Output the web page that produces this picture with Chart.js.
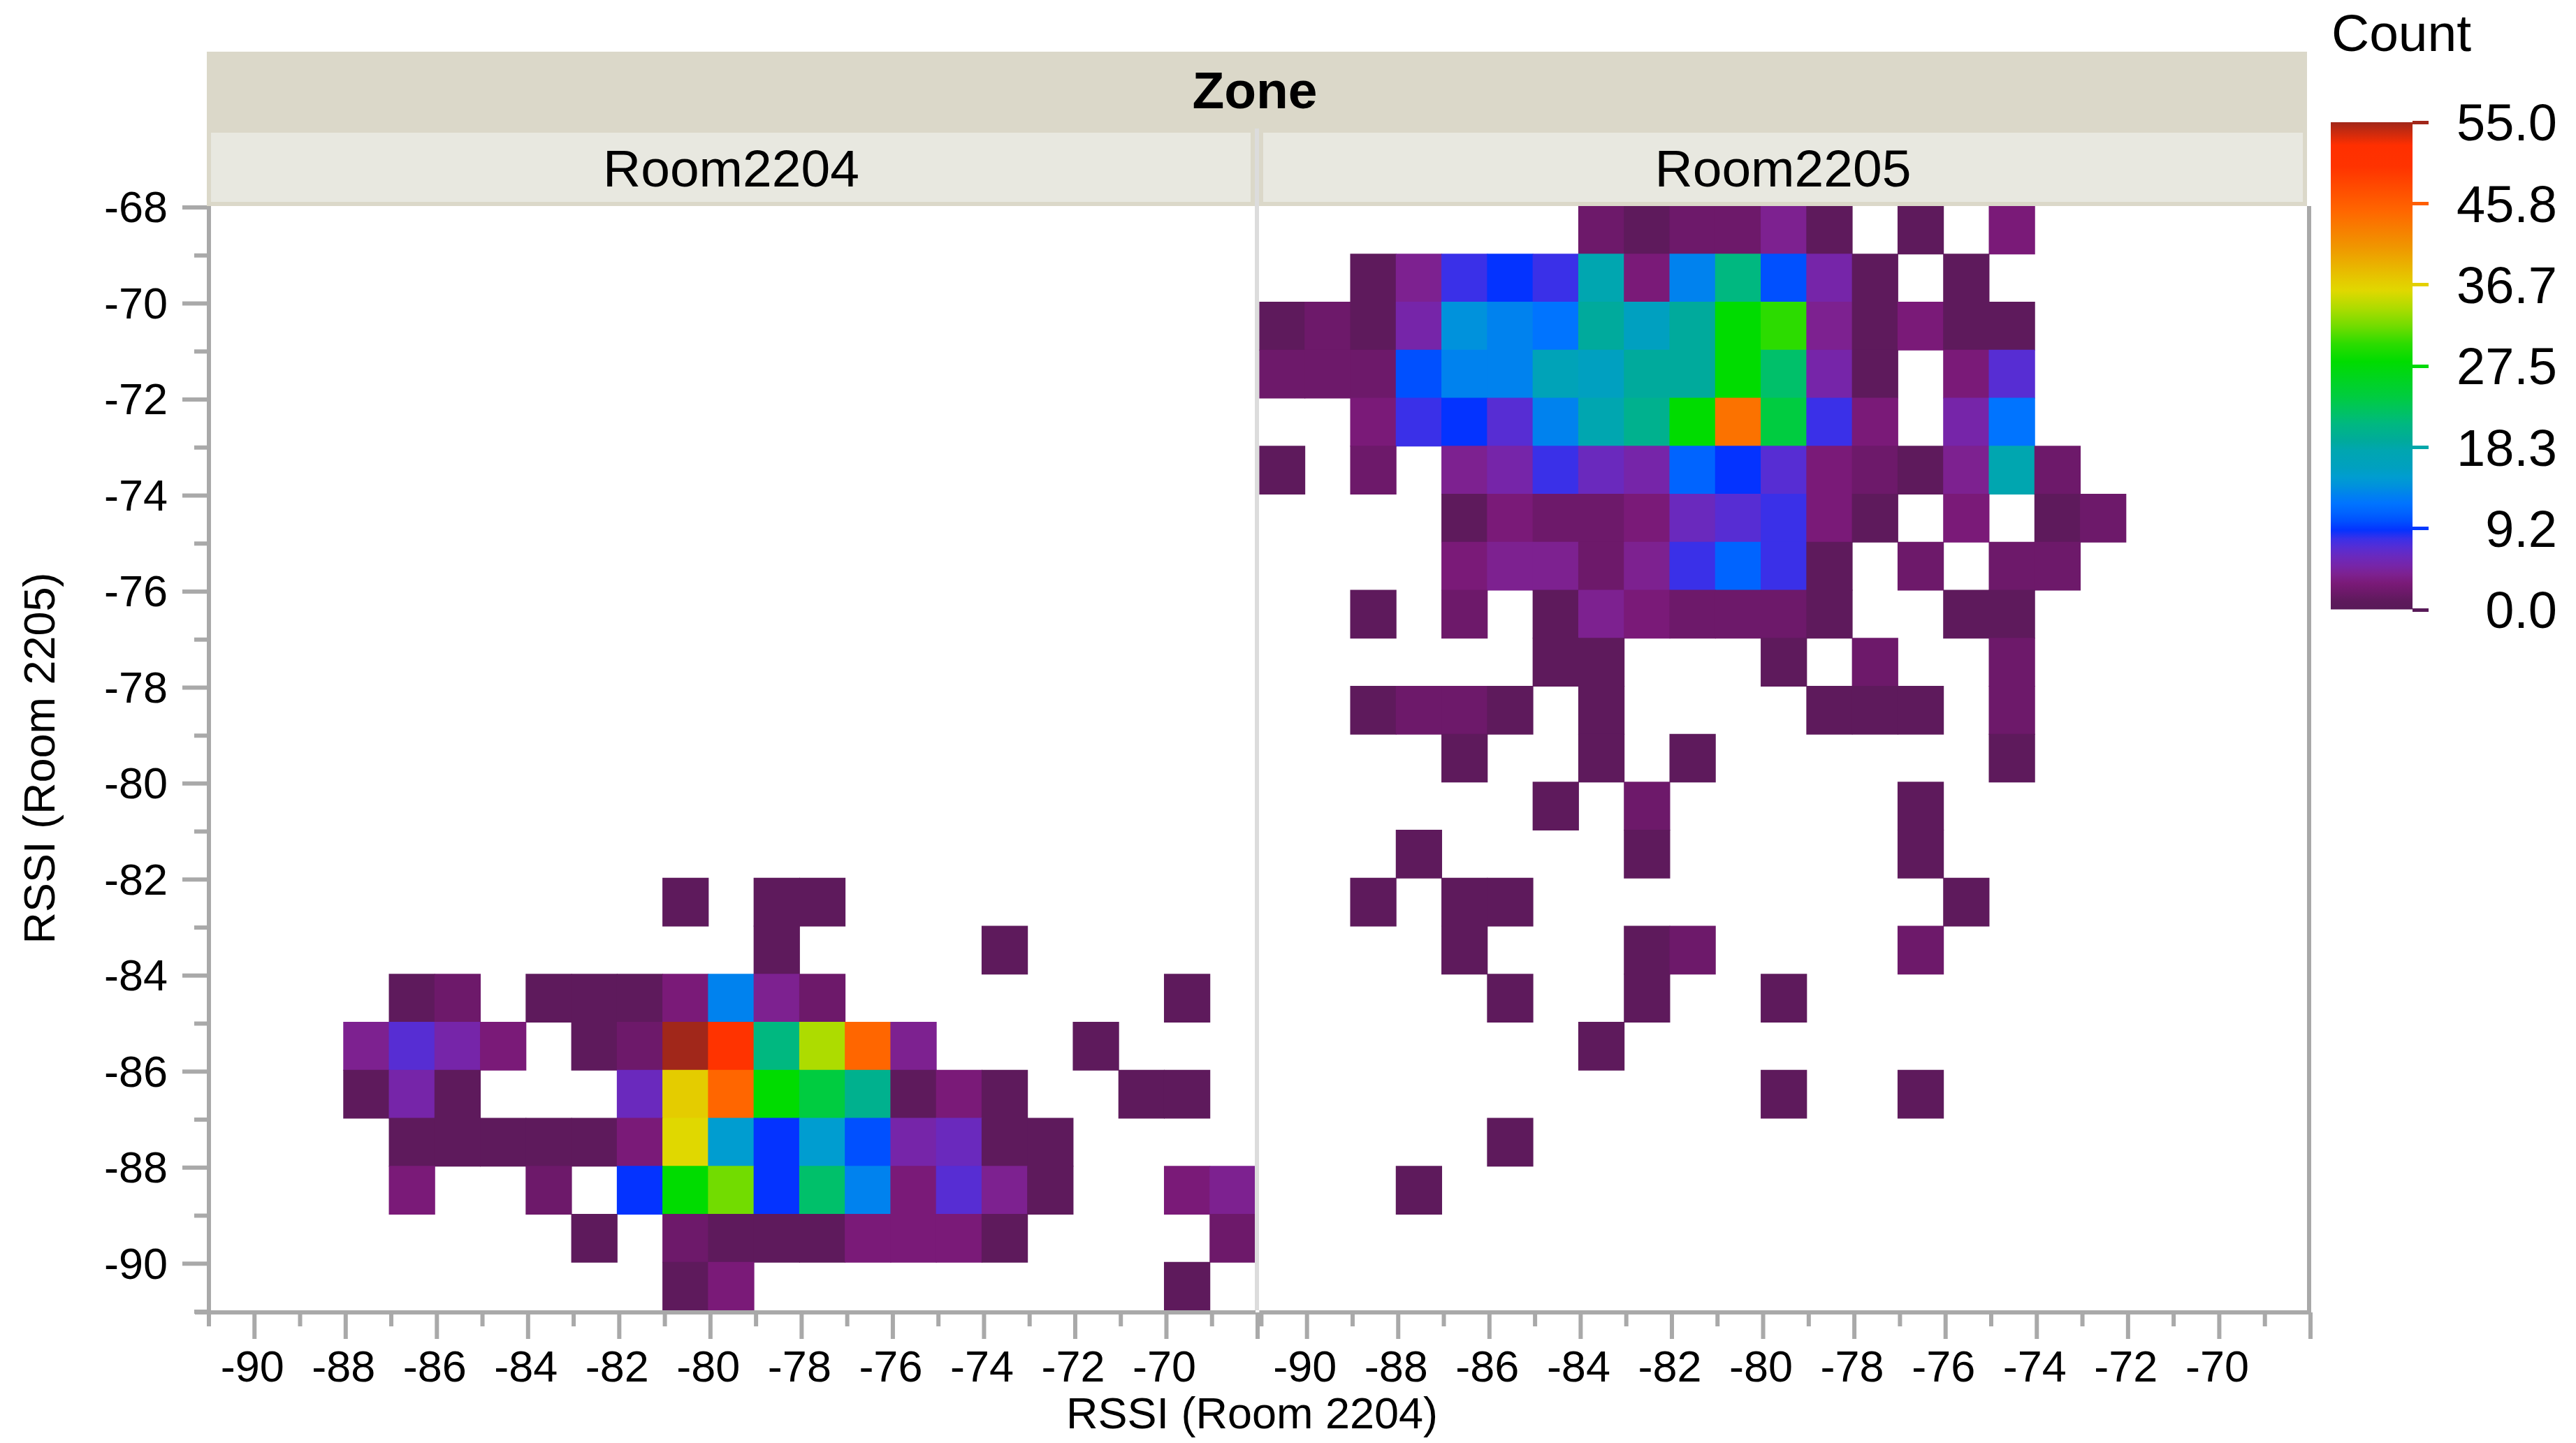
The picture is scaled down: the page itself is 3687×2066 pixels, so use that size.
<!DOCTYPE html>
<html>
<head>
<meta charset="utf-8">
<title>RSSI heatmap by zone</title>
<script src="https://cdn.jsdelivr.net/npm/chart.js@4/dist/chart.umd.min.js"></script>
<style>
  html, body { margin: 0; padding: 0; background: #fff; }
  body { position: relative; width: 3687px; height: 2066px; overflow: hidden; font-family: "Liberation Sans", Arial, sans-serif; color: #000; }
  canvas { position: absolute; z-index: 1; }
  .band { position: absolute; z-index: 2; }
  .label { position: absolute; z-index: 3; text-align: center; line-height: 1; white-space: nowrap; }
</style>
</head>
<body>
  <div class="band" style="left:296px;top:74px;width:3006px;height:110px;background:#dbd8c9"></div>
  <div class="band" style="left:296px;top:184px;width:3006px;height:111px;background:#dbd8c9"></div>
  <div class="band" style="left:302px;top:190px;width:1488px;height:99px;background:#e8e8e0"></div>
  <div class="band" style="left:1808px;top:190px;width:1488px;height:99px;background:#e8e8e0"></div>
  <div class="band" style="left:1796px;top:184px;width:6px;height:1692px;background:#dcdcdc"></div>
  <div class="label" style="left:296px;width:3000px;top:92px;font-size:75px;font-weight:bold">Zone</div>
  <div class="label" style="left:296px;width:1501px;top:204px;font-size:75px">Room2204</div>
  <div class="label" style="left:1802px;width:1500px;top:204px;font-size:75px">Room2205</div>
  <div class="label" style="left:1292px;width:1000px;top:1992px;font-size:63px">RSSI (Room 2204)</div>
  <div class="label" style="left:3337px;top:10px;font-size:75px">Count</div>

  <canvas id="room2204Chart" width="1810" height="1866" style="left:0;top:200px"></canvas>
  <canvas id="room2205Chart" width="1560" height="1866" style="left:1780px;top:200px"></canvas>
  <canvas id="legendChart" width="345" height="780" style="left:3320px;top:130px"></canvas>

<script>
// Bin edges: x bins start at these values, y rows end at these values
const xBins = [-91, -90, -89, -88, -87, -86, -85, -84, -83, -82, -81, -80, -79, -78, -77, -76, -75, -74, -73, -72, -71, -70, -69];
const yBins = [-68, -69, -70, -71, -72, -73, -74, -75, -76, -77, -78, -79, -80, -81, -82, -83, -84, -85, -86, -87, -88, -89, -90];

// Counts per cell, one row per y bin, 0 = no cell
const room2204Counts = [
  [0,0,0,0,0,0,0,0,0,0,0,0,0,0,0,0,0,0,0,0,0,0,0],
  [0,0,0,0,0,0,0,0,0,0,0,0,0,0,0,0,0,0,0,0,0,0,0],
  [0,0,0,0,0,0,0,0,0,0,0,0,0,0,0,0,0,0,0,0,0,0,0],
  [0,0,0,0,0,0,0,0,0,0,0,0,0,0,0,0,0,0,0,0,0,0,0],
  [0,0,0,0,0,0,0,0,0,0,0,0,0,0,0,0,0,0,0,0,0,0,0],
  [0,0,0,0,0,0,0,0,0,0,0,0,0,0,0,0,0,0,0,0,0,0,0],
  [0,0,0,0,0,0,0,0,0,0,0,0,0,0,0,0,0,0,0,0,0,0,0],
  [0,0,0,0,0,0,0,0,0,0,0,0,0,0,0,0,0,0,0,0,0,0,0],
  [0,0,0,0,0,0,0,0,0,0,0,0,0,0,0,0,0,0,0,0,0,0,0],
  [0,0,0,0,0,0,0,0,0,0,0,0,0,0,0,0,0,0,0,0,0,0,0],
  [0,0,0,0,0,0,0,0,0,0,0,0,0,0,0,0,0,0,0,0,0,0,0],
  [0,0,0,0,0,0,0,0,0,0,0,0,0,0,0,0,0,0,0,0,0,0,0],
  [0,0,0,0,0,0,0,0,0,0,0,0,0,0,0,0,0,0,0,0,0,0,0],
  [0,0,0,0,0,0,0,0,0,0,0,0,0,0,0,0,0,0,0,0,0,0,0],
  [0,0,0,0,0,0,0,0,0,0,1,0,1,1,0,0,0,0,0,0,0,0,0],
  [0,0,0,0,0,0,0,0,0,0,0,0,1,0,0,0,0,1,0,0,0,0,0],
  [0,0,0,0,1,2,0,1,1,1,3,13,4,2,0,0,0,0,0,0,0,1,0],
  [0,0,0,4,7,5,3,0,1,2,55,50,21,34,45,4,0,0,0,1,0,0,0],
  [0,0,0,1,5,1,0,0,0,6,37,45,28,24,20,1,3,1,0,0,1,1,0],
  [0,0,0,0,1,1,1,1,1,3,36,15,9,15,10,5,6,1,1,0,0,0,0],
  [0,0,0,0,3,0,0,2,0,9,28,32,9,22,13,3,7,4,1,0,0,3,4],
  [0,0,0,0,0,0,0,0,1,0,2,1,1,1,3,3,3,1,0,0,0,0,2],
  [0,0,0,0,0,0,0,0,0,0,1,3,0,0,0,0,0,0,0,0,0,1,0]
];

const room2205Counts = [
  [0,0,0,0,0,0,0,2,1,2,2,4,1,0,1,0,3,0,0,0,0,0,0],
  [0,0,1,4,8,9,8,18,3,13,21,10,5,1,0,1,0,0,0,0,0,0,0],
  [1,2,1,5,14,13,12,19,16,19,28,30,4,1,3,1,1,0,0,0,0,0,0],
  [2,2,2,10,13,13,17,16,19,19,28,22,5,1,0,3,7,0,0,0,0,0,0],
  [0,0,3,8,9,7,13,18,20,28,44,24,8,3,0,5,12,0,0,0,0,0,0],
  [1,0,2,0,4,5,8,6,5,11,9,7,3,2,1,4,18,2,0,0,0,0,0],
  [0,0,0,0,1,3,2,2,3,6,7,8,3,1,0,3,0,1,2,0,0,0,0],
  [0,0,0,0,3,4,4,2,4,8,11,8,1,0,2,0,2,2,0,0,0,0,0],
  [0,0,1,0,2,0,1,4,3,2,2,2,1,0,0,1,1,0,0,0,0,0,0],
  [0,0,0,0,0,0,1,1,0,0,0,1,0,2,0,0,2,0,0,0,0,0,0],
  [0,0,1,2,2,1,0,1,0,0,0,0,1,1,1,0,2,0,0,0,0,0,0],
  [0,0,0,0,1,0,0,1,0,1,0,0,0,0,0,0,1,0,0,0,0,0,0],
  [0,0,0,0,0,0,1,0,2,0,0,0,0,0,1,0,0,0,0,0,0,0,0],
  [0,0,0,1,0,0,0,0,1,0,0,0,0,0,1,0,0,0,0,0,0,0,0],
  [0,0,1,0,1,1,0,0,0,0,0,0,0,0,0,1,0,0,0,0,0,0,0],
  [0,0,0,0,1,0,0,0,1,2,0,0,0,0,2,0,0,0,0,0,0,0,0],
  [0,0,0,0,0,1,0,0,1,0,0,1,0,0,0,0,0,0,0,0,0,0,0],
  [0,0,0,0,0,0,0,1,0,0,0,0,0,0,0,0,0,0,0,0,0,0,0],
  [0,0,0,0,0,0,0,0,0,0,0,1,0,0,1,0,0,0,0,0,0,0,0],
  [0,0,0,0,0,1,0,0,0,0,0,0,0,0,0,0,0,0,0,0,0,0,0],
  [0,0,0,1,0,0,0,0,0,0,0,0,0,0,0,0,0,0,0,0,0,0,0],
  [0,0,0,0,0,0,0,0,0,0,0,0,0,0,0,0,0,0,0,0,0,0,0],
  [0,0,0,0,0,0,0,0,0,0,0,0,0,0,0,0,0,0,0,0,0,0,0]
];

const legendTicks = [0, 9.2, 18.3, 27.5, 36.7, 45.8, 55];

// Colour scale of the Count legend
const colorValues = [0, 1, 2, 3, 4, 5, 6, 7, 8, 9, 10, 11, 12, 13, 14, 15, 16, 18, 19, 21, 22, 24, 28, 30, 32, 34, 36, 37, 41, 45, 50, 52.4, 55];
const colorHexes = ['#581a58', '#5e1a5c', '#6d196a', '#7a1a78', '#7d2190', '#7625a9', '#6a29bd', '#572dd3', '#3a30e8', '#0433ff', '#0050ff',
  '#0064ff', '#0074ff', '#0082ee', '#0092dc', '#009dd0', '#00a0c0', '#00a6b0', '#00aa9c', '#00b880', '#00c06a', '#00cc40', '#00dc00',
  '#2cdc00', '#72dc00', '#addc00', '#e0d800', '#e4cc00', '#f09500', '#ff6600', '#ff3300', '#ff2f00', '#a1271a'];

function hexToRgb(hex) {
  return [1, 3, 5].map(i => parseInt(hex.slice(i, i + 2), 16));
}

function countColor(count) {
  let i = 0;
  while (i < colorValues.length - 2 && count > colorValues[i + 1]) i++;
  const t = (count - colorValues[i]) / (colorValues[i + 1] - colorValues[i]);
  const a = hexToRgb(colorHexes[i]);
  const b = hexToRgb(colorHexes[i + 1]);
  const mix = a.map((v, k) => Math.round(v + (b[k] - v) * t));
  return `rgb(${mix[0]}, ${mix[1]}, ${mix[2]})`;
}

const axisGray = '#a9a9a9';
const tickFont = { family: '"Liberation Sans", Arial, sans-serif', size: 63 };

// Long ticks on even values, short on odd, Chart.js has one tickLength per axis
const axisMarks = {
  id: 'axisMarks',
  afterDraw(chart, args, opts) {
    const { ctx, chartArea, scales } = chart;
    ctx.save();
    ctx.strokeStyle = axisGray;
    ctx.lineWidth = 6;
    const lineY = chartArea.bottom + 3;

    ctx.beginPath();
    ctx.moveTo(chartArea.left - (opts.showY ? 17 : 0), lineY);
    ctx.lineTo(chartArea.right + (opts.showY ? 0 : 4), lineY);
    const yLineX = opts.showY ? chartArea.left + 3 : chartArea.right + 1;
    ctx.moveTo(yLineX, chartArea.top);
    ctx.lineTo(yLineX, lineY);
    ctx.stroke();

    ctx.beginPath();
    scales.x.ticks.forEach(tick => {
      const px = scales.x.getPixelForValue(tick.value) + 3;
      ctx.moveTo(px, lineY);
      ctx.lineTo(px, chartArea.bottom + (tick.value % 2 === 0 ? 41 : 23));
    });
    if (opts.showY) {
      scales.y.ticks.forEach(tick => {
        const py = scales.y.getPixelForValue(tick.value) + 2;
        ctx.moveTo(chartArea.left, py);
        ctx.lineTo(chartArea.left - (tick.value % 2 === 0 ? 35 : 18), py);
      });
    }
    ctx.stroke();
    ctx.restore();
  }
};

// Chart.js centres labels a bit above the tick, move them down to sit on it
function nudgeLabels(scale, dy) {
  if (scale.nudged) return;
  scale.nudged = true;
  const drawLabels = scale.drawLabels;
  scale.drawLabels = function (area) {
    this.ctx.save();
    this.ctx.translate(0, dy);
    drawLabels.call(this, area);
    this.ctx.restore();
  };
}

function buildCells(counts) {
  const cells = [];
  counts.forEach((row, r) => {
    row.forEach((count, c) => {
      if (count > 0) {
        cells.push({ x: xBins[c] + 0.5, y: [yBins[r] - 1, yBins[r]], count: count });
      }
    });
  });
  return cells;
}

function makePanel(canvasId, counts, showY, padding, cellWidth) {
  new Chart(document.getElementById(canvasId), {
    type: 'bar',
    data: {
      datasets: [{
        data: buildCells(counts),
        backgroundColor: c => c.raw ? countColor(c.raw.count) : 'transparent',
        barThickness: cellWidth,
        inflateAmount: 0.5,
        borderWidth: 0
      }]
    },
    options: {
      responsive: false,
      animation: false,
      events: [],
      devicePixelRatio: 1,
      layout: { padding: padding },
      plugins: {
        legend: { display: false },
        tooltip: { enabled: false },
        axisMarks: { showY: showY }
      },
      scales: {
        x: {
          type: 'linear',
          offset: false,
          min: -91,
          max: -68,
          grid: { display: false },
          border: { display: false },
          ticks: {
            stepSize: 1,
            autoSkip: false,
            maxRotation: 0,
            padding: 39,
            color: '#000',
            font: tickFont,
            callback: v => (v % 2 === 0 && v !== -68 ? String(v) : '')
          },
          afterFit: scale => {
            scale.height = 190;
            scale.paddingLeft = 0;
            scale.paddingRight = 0;
          }
        },
        y: {
          type: 'linear',
          display: showY,
          min: -91,
          max: -68,
          grid: { display: false },
          border: { display: false },
          title: {
            display: true,
            text: 'RSSI (Room 2205)',
            color: '#000',
            font: tickFont,
            padding: { top: 23, bottom: 0 }
          },
          ticks: {
            stepSize: 1,
            autoSkip: false,
            padding: 48,
            color: '#000',
            font: tickFont,
            callback: v => (v % 2 === 0 ? String(v) : '')
          },
          afterFit: scale => {
            scale.width = showY ? 296 : 0;
            scale.paddingTop = 0;
            scale.paddingBottom = 0;
            nudgeLabels(scale, 6);
          }
        }
      }
    },
    plugins: [axisMarks]
  });
}

const cellWidth = 1501 / xBins.length;

makePanel('room2204Chart', room2204Counts, true, { top: 95, right: 13, left: 0, bottom: 0 }, cellWidth);
makePanel('room2205Chart', room2205Counts, false, { top: 95, left: 22.4, right: 36, bottom: 0 }, cellWidth);

// Count legend: one floating bar with the colour scale as gradient
new Chart(document.getElementById('legendChart'), {
  type: 'bar',
  data: {
    labels: ['Count'],
    datasets: [{
      data: [[legendTicks[0], legendTicks[legendTicks.length - 1]]],
      barPercentage: 1,
      categoryPercentage: 1,
      inflateAmount: 0,
      backgroundColor: c => {
        const { chart } = c;
        if (!chart.chartArea) return 'transparent';
        const y = chart.scales.y;
        const gradient = chart.ctx.createLinearGradient(0, y.getPixelForValue(0), 0, y.getPixelForValue(55));
        colorValues.forEach((v, i) => gradient.addColorStop(v / 55, colorHexes[i]));
        return gradient;
      }
    }]
  },
  options: {
    responsive: false,
    animation: false,
    events: [],
    devicePixelRatio: 1,
    layout: { padding: { left: 16, right: 5, top: 45, bottom: 37 } },
    plugins: { legend: { display: false }, tooltip: { enabled: false } },
    scales: {
      x: { display: false },
      y: {
        position: 'right',
        min: 0,
        max: 55,
        afterBuildTicks: scale => {
          scale.ticks = legendTicks.map(v => ({ value: v }));
        },
        grid: {
          drawOnChartArea: false,
          tickLength: 23,
          tickWidth: 5,
          tickColor: c => countColor(c.tick.value)
        },
        border: { display: false },
        ticks: {
          crossAlign: 'far',
          color: '#000',
          font: { family: tickFont.family, size: 74 },
          callback: v => v.toFixed(1)
        },
        afterFit: scale => {
          scale.width = 207;
          scale.paddingTop = 0;
          scale.paddingBottom = 0;
          nudgeLabels(scale, 6);
        }
      }
    }
  }
});
</script>
</body>
</html>
